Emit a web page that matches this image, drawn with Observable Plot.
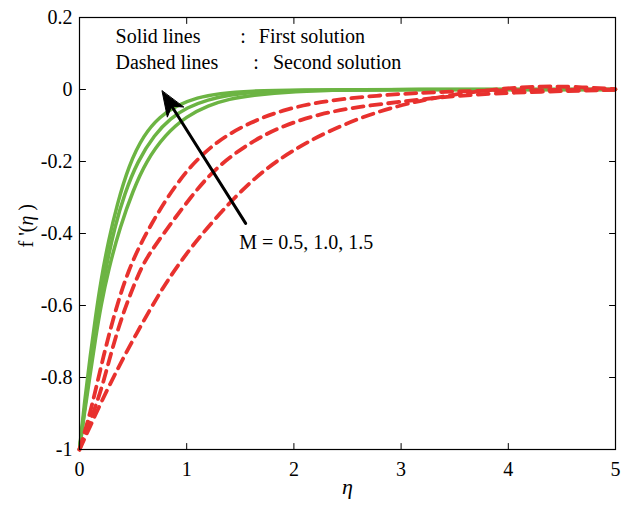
<!DOCTYPE html>
<html><head><meta charset="utf-8">
<script src="https://cdn.jsdelivr.net/npm/d3@7"></script>
<script src="https://cdn.jsdelivr.net/npm/@observablehq/plot@0.6"></script>
<style>body{margin:0;background:#fff} svg{display:block}</style>
</head><body><div id="chart"></div>
<script>
// First solution (solid green), three values of M
const etaS1 = [0, 0.05, 0.1, 0.15, 0.2, 0.27, 0.35, 0.46, 0.6, 0.75, 0.9, 1.1, 1.3, 1.6, 2, 3, 5];
const fS1   = [-1, -0.86, -0.74, -0.63, -0.53, -0.42, -0.32, -0.21, -0.125, -0.075, -0.045, -0.022, -0.011, -0.004, -0.001, 0, 0];
const etaS2 = [0, 0.05, 0.1, 0.15, 0.2, 0.25, 0.33, 0.42, 0.54, 0.7, 0.85, 1.0, 1.2, 1.4, 1.6, 2, 3, 5];
const fS2   = [-1, -0.88, -0.77, -0.67, -0.575, -0.49, -0.38, -0.29, -0.2, -0.125, -0.08, -0.05, -0.028, -0.015, -0.008, -0.002, 0, 0];
const etaS3 = [0, 0.05, 0.1, 0.15, 0.2, 0.27, 0.38, 0.5, 0.62, 0.8, 1.0, 1.2, 1.4, 1.6, 2, 2.5, 3, 5];
const fS3   = [-1, -0.89, -0.79, -0.69, -0.6, -0.5, -0.38, -0.28, -0.2, -0.125, -0.074, -0.044, -0.026, -0.016, -0.005, -0.001, 0, 0];

// Second solution (dashed red), three values of M
const etaD1 = [0, 0.1, 0.2, 0.3, 0.45, 0.66, 0.97, 1.29, 1.6, 1.91, 2.31, 2.87, 3.4, 4, 5];
const fD1   = [-1, -0.9, -0.77, -0.65, -0.5, -0.375, -0.229, -0.14, -0.09, -0.055, -0.03, -0.014, -0.006, -0.002, 0];
const etaD2 = [0, 0.1, 0.212, 0.352, 0.554, 0.66, 1.07, 1.3, 1.6, 1.9, 2.25, 2.6, 2.97, 3.4, 4, 5];
const fD2   = [-1, -0.92, -0.83, -0.663, -0.506, -0.45, -0.284, -0.21, -0.145, -0.1, -0.067, -0.048, -0.035, -0.02, -0.008, -0.001];
const etaD3 = [0, 0.1, 0.2, 0.34, 0.49, 0.66, 0.8, 0.95, 1.13, 1.44, 1.75, 2.07, 2.31, 2.63, 2.94, 3.25, 3.62, 4.0, 4.3, 4.6, 5.0];
const fD3   = [-1, -0.935, -0.87, -0.785, -0.7, -0.61, -0.54, -0.475, -0.405, -0.3, -0.215, -0.155, -0.118, -0.077, -0.048, -0.026, -0.008, 0.004, 0.009, 0.008, 0.001];

const xTicks = [0, 1, 2, 3, 4, 5];
const yTicks = [0.2, 0, -0.2, -0.4, -0.6, -0.8, -1];

// annotations (data units)
const legendRows = [
  {name: "Solid lines", colon: ":", desc: "First solution", y: 0.146, xName: 0.336, xColon: 1.5, xDesc: 1.673},
  {name: "Dashed lines", colon: ":", desc: "Second solution", y: 0.075, xName: 0.336, xColon: 1.62, xDesc: 1.804}
];
const arrowData = [{x1: 1.55, y1: -0.372, x2: 0.77, y2: -0.004}];
const mLabel = [{x: 1.49, y: -0.425, text: "M = 0.5, 1.0, 1.5"}];

const toRows = (etas, fs, id) => etas.map((e, i) => ({eta: e, f: fs[i], id}));
const solid = [...toRows(etaS1, fS1, "s1"), ...toRows(etaS2, fS2, "s2"), ...toRows(etaS3, fS3, "s3")];
const dashed = [...toRows(etaD1, fD1, "d1"), ...toRows(etaD2, fD2, "d2"), ...toRows(etaD3, fD3, "d3")];

const tickShape = {draw(ctx, l) { ctx.moveTo(0, 0); ctx.lineTo(0, -l); }};
const font = "'Liberation Serif', 'Times New Roman', serif";
const fmt = d => (d < 0 ? "-" : "") + Math.abs(d).toString();

// filled, notched arrow head drawn on top of the shaft
const HEAD_LEN = 25, HEAD_HALF = 9.5, HEAD_NOTCH = 18;
function arrowHead(index, scales, values, dimensions, context, next) {
  const g = next(index, scales, values, dimensions, context);
  for (const d of arrowData) {
    const ax = scales.x(d.x1), ay = scales.y(d.y1), bx = scales.x(d.x2), by = scales.y(d.y2);
    const len = Math.hypot(ax - bx, ay - by), ux = (ax - bx) / len, uy = (ay - by) / len;
    const px = -uy, py = ux;
    const pts = [
      [bx, by],
      [bx + ux * HEAD_LEN + px * HEAD_HALF, by + uy * HEAD_LEN + py * HEAD_HALF],
      [bx + ux * HEAD_NOTCH, by + uy * HEAD_NOTCH],
      [bx + ux * HEAD_LEN - px * HEAD_HALF, by + uy * HEAD_LEN - py * HEAD_HALF]
    ];
    d3.select(g).append("path").attr("d", "M" + pts.map(p => p.join(",")).join("L") + "Z").attr("fill", "black").attr("stroke", "black").attr("stroke-width", 1);
  }
  return g;
}

// y label with italic eta
function yLabelRich(index, scales, values, dimensions, context, next) {
  const g = next(index, scales, values, dimensions, context);
  d3.select(g).selectAll("text").each(function() {
    const t = d3.select(this);
    t.text(null);
    t.append("tspan").text("f '(");
    t.append("tspan").attr("font-style", "italic").text("η");
    t.append("tspan").text(" )");
  });
  return g;
}

const chart = Plot.plot({
  width: 632, height: 506,
  marginLeft: 79, marginRight: 17, marginTop: 17, marginBottom: 57,
  x: {domain: [0, 5]},
  y: {domain: [-1, 0.2]},
  style: {fontFamily: font, fontSize: "20px", background: "white", color: "black"},
  marks: [
    Plot.axisX({ticks: xTicks, tickSize: 0, tickPadding: 12, tickFormat: fmt, label: null, fontSize: 20, fontFamily: font}),
    Plot.axisY({ticks: yTicks, tickSize: 0, tickPadding: 7, tickFormat: fmt, label: null, fontSize: 20, fontFamily: font}),
    Plot.vector(xTicks, {x: d => d, frameAnchor: "bottom", length: 6, rotate: 0, anchor: "start", shape: tickShape, stroke: "black", strokeWidth: 1}),
    Plot.vector(xTicks, {x: d => d, frameAnchor: "top", length: 6, rotate: 180, anchor: "start", shape: tickShape, stroke: "black", strokeWidth: 1}),
    Plot.vector(yTicks, {y: d => d, frameAnchor: "left", length: 6, rotate: 90, anchor: "start", shape: tickShape, stroke: "black", strokeWidth: 1}),
    Plot.vector(yTicks, {y: d => d, frameAnchor: "right", length: 6, rotate: -90, anchor: "start", shape: tickShape, stroke: "black", strokeWidth: 1}),
    Plot.line(solid, {x: "eta", y: "f", z: "id", stroke: "#6cb443", strokeWidth: 3.5, curve: "basis"}),
    Plot.line(dashed, {x: "eta", y: "f", z: "id", stroke: "#e8312e", strokeWidth: 3.8, strokeDasharray: "11,7", curve: "basis"}),
    Plot.frame({stroke: "black", strokeWidth: 1.2}),
    Plot.arrow(arrowData, {x1: "x1", y1: "y1", x2: "x2", y2: "y2", stroke: "black", strokeWidth: 3, headLength: 0, insetEnd: 17, render: arrowHead}),
    Plot.text(mLabel, {x: "x", y: "y", text: "text", textAnchor: "start", fontSize: 20, fontFamily: font, fill: "black"}),
    Plot.text(legendRows, {x: "xName", y: "y", text: "name", textAnchor: "start", fontSize: 20, fontFamily: font, fill: "black"}),
    Plot.text(legendRows, {x: "xColon", y: "y", text: "colon", textAnchor: "start", fontSize: 20, fontFamily: font, fill: "black"}),
    Plot.text(legendRows, {x: "xDesc", y: "y", text: "desc", textAnchor: "start", fontSize: 20, fontFamily: font, fill: "black"}),
    Plot.text(["η"], {frameAnchor: "bottom", dy: 44, fontStyle: "italic", fontSize: 22, fontFamily: font, fill: "black"}),
    Plot.text(["f '(η )"], {frameAnchor: "left", dx: -53, dy: 14, rotate: -90, fontSize: 20, fontFamily: font, fill: "black", render: yLabelRich})
  ]
});
document.getElementById("chart").appendChild(chart);
</script>
</body></html>
